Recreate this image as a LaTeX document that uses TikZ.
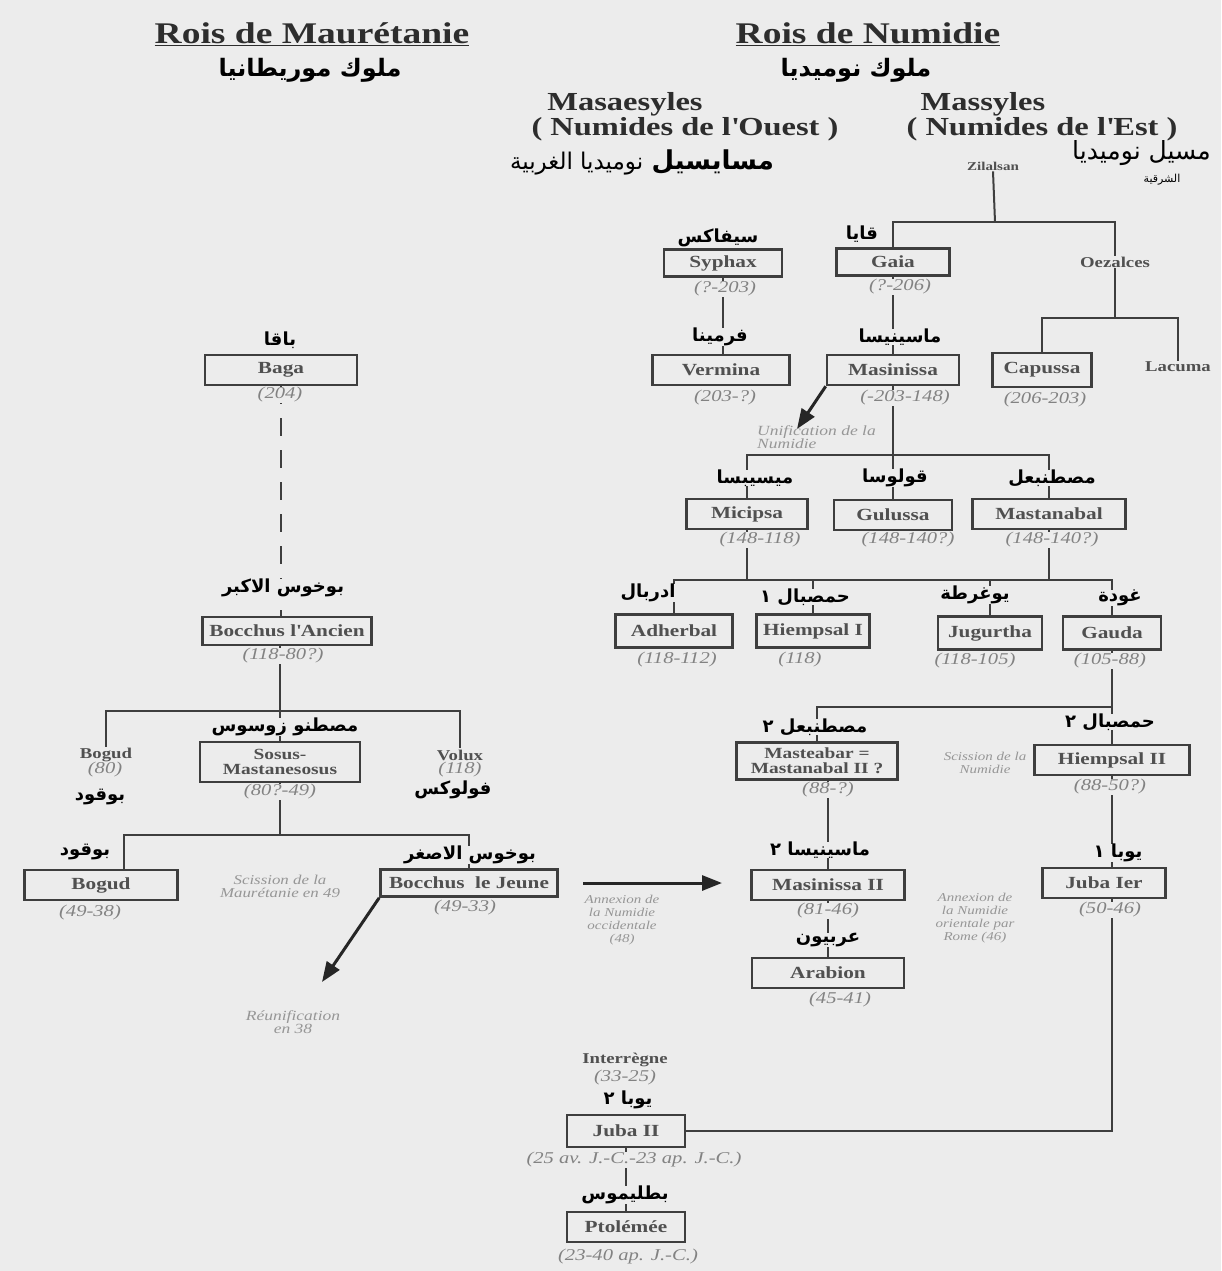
\documentclass[tikz,border=0pt]{standalone}
\usepackage{fontspec}
\setmainfont[FakeStretch=1.25]{Liberation Serif}
\newfontfamily\arabfont[Script=Arabic]{DejaVu Sans}
\TeXXeTstate=1
\usetikzlibrary{arrows.meta}
\definecolor{bg}{RGB}{236,236,236}
\definecolor{ln}{RGB}{62,62,62}
\definecolor{lab}{RGB}{80,80,80}
\definecolor{dat}{RGB}{130,130,130}
\definecolor{notec}{RGB}{150,150,150}
\definecolor{head}{RGB}{45,45,45}
\newcommand{\RT}[1]{\beginR #1\endR}
\tikzset{
  box/.style={draw=ln, line width=2.6pt, fill=bg, text=lab, font=\bfseries\fontsize{17}{18}\selectfont, inner sep=2pt, minimum height=30},
  datel/.style={fill=bg, text=dat, font=\itshape\fontsize{16.5}{17}\selectfont, inner sep=1pt},
  arl/.style={fill=bg, text=black, font=\arabfont\bfseries\fontsize{18}{19}\selectfont, inner sep=0pt},
  notel/.style={text=notec, font=\itshape\fontsize{12}{13}\selectfont, align=center, inner sep=0pt},
  conn/.style={draw=ln, line width=2pt},
  bigarrow/.style={draw=black!85, line width=3pt, -{Triangle[length=20pt,width=15pt]}},
  plainl/.style={text=lab, font=\bfseries\fontsize{15}{16}\selectfont, fill=bg, inner sep=1pt},
  headl/.style={text=head, font=\bfseries\fontsize{30}{32}\selectfont},
  subh/.style={text=head, font=\bfseries\fontsize{26}{25}\selectfont, align=center},
  arh/.style={text=black, font=\arabfont\bfseries\fontsize{24}{26}\selectfont, inner sep=0pt}
}
\begin{document}
\begin{tikzpicture}[x=1pt,y=-1pt]
\fill[bg] (0,0) rectangle (1221,1271);
\useasboundingbox (0,0) rectangle (1221,1271);

% headers
\node[headl] (h1) at (312,34) {\underline{Rois de Maurétanie}};
\node[arh] (h1a) at (310,70) {\RT{ملوك موريطانيا}};
\node[headl] (h2) at (868,34) {\underline{Rois de Numidie}};
\node[arh] (h2a) at (856,70) {\RT{ملوك نوميديا}};
\node[subh] (h3) at (685,117) {\hspace*{-120pt}Masaesyles\\( Numides de l\textquotesingle Ouest )};
\node[subh] (h4) at (1042,117) {\hspace*{-118pt}Massyles\\( Numides de l\textquotesingle Est )};
\node[arh] (h3a) at (642,162) {\RT{{\fontsize{26}{28}\selectfont مسايسيل} {\mdseries\fontsize{23}{24}\selectfont نوميديا الغربية}}};
\node[arh, anchor=west] (h4a) at (1072,153) {\RT{{\mdseries\fontsize{25}{26}\selectfont مسيل نوميديا}}};
\node[text=black, font=\arabfont\fontsize{11}{12}\selectfont] (h4b) at (1162,180) {\RT{الشرقية}};

% ---------------- Numidia boxes
\node[text=lab, font=\bfseries\fontsize{12}{13}\selectfont, inner sep=1pt] (zil) at (993,166) {Zilalsan};
\coordinate (j1) at (995,222);
\node[box, minimum width=113, minimum height=27] (gaia) at (893,262) {Gaia};
\node[box, minimum width=118, minimum height=27] (syph) at (723,263) {Syphax};
\node[plainl] (oez) at (1115,262) {Oezalces};
\coordinate (j2) at (1115,318);
\node[box, minimum width=99, minimum height=34] (cap) at (1042,370) {Capussa};
\node[plainl] (lac) at (1178,367) {Lacuma};
\node[box, minimum width=137] (verm) at (721,370) {Vermina};
\node[box, minimum width=132] (mas) at (893,370) {Masinissa};
\node[box, minimum width=121] (mic) at (747,514) {Micipsa};
\node[box, minimum width=118] (gul) at (893,515) {Gulussa};
\node[box, minimum width=153] (mast) at (1049,514) {Mastanabal};
\coordinate (j3) at (893,455);
\coordinate (j4) at (747,580);
\coordinate (j5) at (1049,580);
\node[box, minimum width=117, minimum height=33] (adh) at (674,631) {Adherbal};
\node[box, minimum width=113, minimum height=33] (hie1) at (813,631) {Hiempsal I};
\node[box, minimum width=104, minimum height=33] (jug) at (990,633) {Jugurtha};
\node[box, minimum width=98, minimum height=33] (gau) at (1112,633) {Gauda};
\coordinate (j6) at (1112,707);
\node[box, minimum width=161, minimum height=37, align=center, font=\bfseries\fontsize{15.5}{15}\selectfont] (mst2) at (817,761) {Masteabar =\\Mastanabal II ?};
\node[box, minimum width=155] (hie2) at (1112,760) {Hiempsal II};
\node[box, minimum width=153] (mas2) at (828,885) {Masinissa II};
\node[box, minimum width=152] (arab) at (828,973) {Arabion};
\node[box, minimum width=123] (jub1) at (1104,883) {Juba Ier};
\node[box, minimum width=118, minimum height=32] (jub2) at (626,1131) {Juba II};
\node[box, minimum width=118] (ptol) at (626,1227) {Ptolémée};

% ---------------- Mauretania boxes
\node[box, minimum width=152] (baga) at (281,370) {Baga};
\node[box, minimum width=169, minimum height=28, inner xsep=1pt] (boc1) at (287,631) {Bocchus l\textquotesingle Ancien};
\coordinate (j7) at (280,711);
\node[plainl, font=\bfseries\fontsize{15}{16}\selectfont] (bog1) at (106,755) {Bogud};
\node[plainl, font=\bfseries\fontsize{15}{16}\selectfont] (vol) at (460,755) {Volux};
\node[box, minimum width=160, minimum height=40, align=center, font=\bfseries\fontsize{15.5}{15}\selectfont] (sos) at (280,762) {Sosus-\\Mastanesosus};
\coordinate (j8) at (280,835);
\coordinate (j8l) at (124,835);
\node[box, minimum width=153] (bog2) at (101,885) {Bogud};
\node[box, minimum width=177, minimum height=27, inner xsep=1pt] (boc2) at (469,883) {Bocchus\ \ le Jeune};

% ---------------- connectors
\draw[conn] (zil.south) -- (j1);
\draw[conn] (gaia.north) |- (j1) -| (oez.north);
\draw[conn] (oez.south) -- (j2);
\draw[conn] (cap.north) |- (j2) -| (lac.north);
\draw[conn] (syph.south) -- (syph.south |- verm.north);
\draw[conn] (gaia.south) -- (mas.north);
\draw[conn] (mas.south) -- (gul.north);
\draw[conn] (mic.north) |- (j3) -| (mast.north);
\draw[conn] (mic.south) -- (j4);
\draw[conn] (mast.south) -- (j5);
\draw[conn] (adh.north) |- (j4) -- (j5) -| (gau.north);
\draw[conn] (hie1.north) -- (hie1.north |- j4);
\draw[conn] (jug.north) -- (jug.north |- j4);
\draw[conn] (gau.south) -- (hie2.north);
\draw[conn] (mst2.north) |- (j6);
\draw[conn] (mst2.south -| mas2.north) -- (mas2.north);
\draw[conn] (mas2.south) -- (arab.north);
\draw[conn] (hie2.south) -- (hie2.south |- jub1.north);
\draw[conn] (jub1.south -| hie2.south) |- (jub2.east);
\draw[conn] (jub2.south) -- (ptol.north);

\draw[conn, dash pattern=on 18pt off 14pt] (baga.south) -- (baga.south |- boc1.north);
\draw[conn] (boc1.south -| j7) -- (j7);
\draw[conn] (bog1.north) |- (j7) -| (vol.north);
\draw[conn] (j7) -- (sos.north);
\draw[conn] (sos.south) -- (j8);
\draw[conn] (bog2.north -| j8l) |- (j8) -| (boc2.north);

% big arrows
\coordinate (unif) at (797,429);
\draw[bigarrow] (mas.south west) -- (unif);
\coordinate (reun) at (322,982);
\draw[bigarrow] (boc2.south west) -- (reun);
\coordinate (a1s) at (583,883);
\coordinate (a1e) at (722,883);
\draw[bigarrow] (a1s) -- (a1e);

% ---------------- dates
\node[datel] (d1) at (725,289) {(?-203)};
\node[datel] (d2) at (900,287) {(?-206)};
\node[datel] (d3) at (725,398) {(203-?)};
\node[datel] (d4) at (905,398) {(-203-148)};
\node[datel] (d5) at (1045,400) {(206-203)};
\node[datel] (d6) at (760,540) {(148-118)};
\node[datel] (d7) at (908,540) {(148-140?)};
\node[datel] (d8) at (1052,540) {(148-140?)};
\node[datel] (d9) at (677,660) {(118-112)};
\node[datel] (d10) at (800,660) {(118)};
\node[datel] (d11) at (975,661) {(118-105)};
\node[datel] (d12) at (1110,661) {(105-88)};
\node[datel] (d13) at (828,790) {(88-?)};
\node[datel] (d14) at (1110,787) {(88-50?)};
\node[datel] (d15) at (828,911) {(81-46)};
\node[datel] (d16) at (840,1000) {(45-41)};
\node[datel] (d17) at (1110,910) {(50-46)};
\node[datel] (d18) at (634,1160) {(25 av. J.-C.-23 ap. J.-C.)};
\node[datel] (d19) at (628,1257) {(23-40 ap. J.-C.)};
\node[plainl, font=\bfseries\fontsize{15}{16}\selectfont] (inter) at (625,1060) {Interrègne};
\node[datel] (d20) at (625,1078) {(33-25)};
\node[datel] (d21) at (280,395) {(204)};
\node[datel] (d22) at (283,656) {(118-80?)};
\node[datel] (d23) at (280,792) {(80?-49)};
\node[datel] (d24) at (90,913) {(49-38)};
\node[datel] (d25) at (465,908) {(49-33)};
\node[datel] (d26) at (105,770) {(80)};
\node[datel] (d27) at (460,770) {(118)};

% ---------------- Arabic labels
\node[arl] (a1) at (718,238) {\RT{سيفاكس}};
\node[arl] (a2) at (862,234) {\RT{قايا}};
\node[arl] (a3) at (720,337) {\RT{فرمينا}};
\node[arl] (a4) at (900,337) {\RT{ماسينيسا}};
\node[arl] (a5) at (755,478) {\RT{ميسيبسا}};
\node[arl] (a6) at (895,478) {\RT{قولوسا}};
\node[arl] (a7) at (1052,478) {\RT{مصطنبعل}};
\node[arl] (a8) at (648,593) {\RT{ادربال}};
\node[arl] (a9) at (805,597) {\RT{حمصبال ١}};
\node[arl] (a10) at (975,595) {\RT{يوغرطة}};
\node[arl] (a11) at (1120,598) {\RT{غودة}};
\node[arl] (a12) at (815,727) {\RT{مصطنبعل ٢}};
\node[arl] (a13) at (1110,722) {\RT{حمصبال ٢}};
\node[arl] (a14) at (820,850) {\RT{ماسينيسا ٢}};
\node[arl] (a15) at (1118,853) {\RT{يوبا ١}};
\node[arl] (a16) at (828,940) {\RT{عربيون}};
\node[arl] (a17) at (628,1100) {\RT{يوبا ٢}};
\node[arl] (a18) at (625,1195) {\RT{بطليموس}};
\node[arl] (a19) at (280,340) {\RT{باقا}};
\node[arl] (a20) at (283,588) {\RT{بوخوس الاكبر}};
\node[arl] (a21) at (285,727) {\RT{مصطنو زوسوس}};
\node[arl] (a22) at (100,797) {\RT{بوقود}};
\node[arl] (a23) at (453,790) {\RT{فولوكس}};
\node[arl] (a24) at (85,852) {\RT{بوقود}};
\node[arl] (a25) at (470,855) {\RT{بوخوس الاصغر}};

% ---------------- notes
\node[notel, anchor=west, align=left, font=\itshape\fontsize{14}{13}\selectfont] (n1) at (757,437) {Unification de la\\Numidie};
\node[notel] (n2) at (985,763) {Scission de la\\Numidie};
\node[notel] (n3) at (622,920) {Annexion de\\la Numidie\\occidentale\\(48)};
\node[notel] (n4) at (975,918) {Annexion de\\la Numidie\\orientale par\\Rome (46)};
\node[notel, font=\itshape\fontsize{13.5}{13}\selectfont] (n5) at (280,886) {Scission de la\\Maurétanie en 49};
\node[notel, font=\itshape\fontsize{14}{11}\selectfont] (n6) at (293,1022) {Réunification\\en 38};
\end{tikzpicture}
\end{document}
